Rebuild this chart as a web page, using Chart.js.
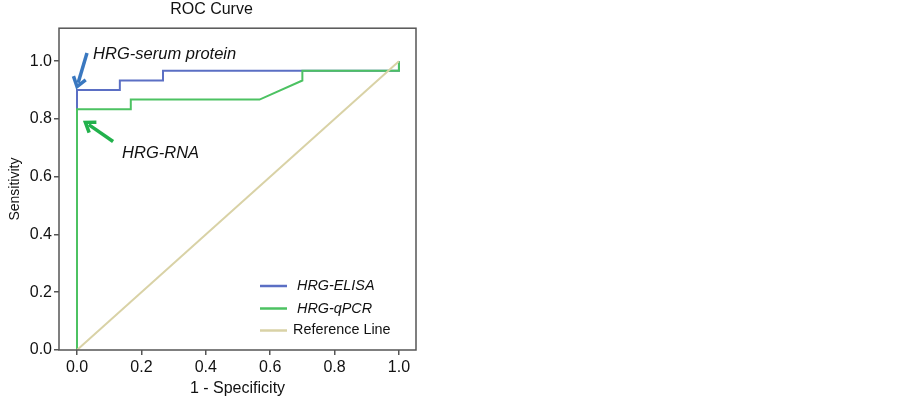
<!DOCTYPE html>
<html>
<head>
<meta charset="utf-8">
<script src="https://cdn.jsdelivr.net/npm/chart.js@4/dist/chart.umd.min.js"></script>
<style>
html,body{margin:0;padding:0;background:#fff;}
#wrap{width:903px;height:398px;position:relative;}
</style>
</head>
<body>
<div id="wrap"><canvas id="c" width="903" height="398"></canvas></div>
<script>
// ---- data ----
const elisaFpr = [0, 0, 0.133, 0.133, 0.267, 0.267, 1.0, 1.0];
const elisaTpr = [0, 0.9, 0.9, 0.933, 0.933, 0.967, 0.967, 1.0];
const qpcrFpr  = [0, 0, 0.167, 0.167, 0.567, 0.7, 0.7, 1.0, 1.0];
const qpcrTpr  = [0, 0.833, 0.833, 0.867, 0.867, 0.933, 0.967, 0.967, 1.0];
const refFpr   = [0, 1];
const refTpr   = [0, 1];
const seriesNames = ['HRG-ELISA', 'HRG-qPCR', 'Reference Line'];
const xTicks = [0, 0.2, 0.4, 0.6, 0.8, 1.0];
const yTicks = [0, 0.2, 0.4, 0.6, 0.8, 1.0];
const annotations = [
  {text: 'HRG-serum protein', x: 0.05, y: 1.024, color: '#3a78c0', from: [0.031, 1.028], to: [0.0, 0.912]},
  {text: 'HRG-RNA', x: 0.14, y: 0.679, color: '#22b14c', from: [0.112, 0.722], to: [0.026, 0.788]}
];

const pts = (xs, ys) => xs.map((x, i) => ({x: x, y: ys[i]}));
const FONT = '"Liberation Sans", Arial, sans-serif';

const framePlugin = {
  id: 'frame',
  afterDraw(chart) {
    const ctx = chart.ctx, a = chart.chartArea;
    ctx.save();
    ctx.strokeStyle = '#555';
    ctx.lineWidth = 1.5;
    ctx.strokeRect(a.left, a.top, a.right - a.left, a.bottom - a.top);
    const xs = chart.scales.x, ys = chart.scales.y;
    ctx.font = 'italic 16.5px ' + FONT;
    ctx.textBaseline = 'middle';
    annotations.forEach(an => {
      ctx.fillStyle = '#111';
      ctx.textAlign = 'left';
      ctx.fillText(an.text, xs.getPixelForValue(an.x), ys.getPixelForValue(an.y));
      const x1 = xs.getPixelForValue(an.from[0]), y1 = ys.getPixelForValue(an.from[1]);
      const x2 = xs.getPixelForValue(an.to[0]), y2 = ys.getPixelForValue(an.to[1]);
      const ang = Math.atan2(y2 - y1, x2 - x1);
      ctx.strokeStyle = an.color;
      ctx.fillStyle = an.color;
      ctx.lineWidth = 3.5;
      ctx.lineCap = 'butt';
      ctx.beginPath();
      ctx.moveTo(x1, y1);
      ctx.lineTo(x2 - 4 * Math.cos(ang), y2 - 4 * Math.sin(ang));
      ctx.stroke();
      const L = 11, w = 0.62;
      ctx.lineJoin = 'miter';
      ctx.beginPath();
      ctx.moveTo(x2 - L * Math.cos(ang - w), y2 - L * Math.sin(ang - w));
      ctx.lineTo(x2, y2);
      ctx.lineTo(x2 - L * Math.cos(ang + w), y2 - L * Math.sin(ang + w));
      ctx.stroke();
    });
    const colors = chart.data.datasets.map(d => d.borderColor);
    const lx = 260, rows = [286, 308.5, 330.5];
    seriesNames.forEach((n, i) => {
      ctx.strokeStyle = colors[i];
      ctx.lineWidth = 2.5;
      ctx.beginPath();
      ctx.moveTo(lx, rows[i]);
      ctx.lineTo(lx + 27, rows[i]);
      ctx.stroke();
      ctx.fillStyle = '#111';
      ctx.font = (i < 2 ? 'italic ' : '') + '14.4px ' + FONT;
      ctx.textAlign = 'left';
      ctx.fillText(n, i < 2 ? lx + 37 : lx + 33, rows[i]);
    });
    ctx.restore();
  }
};

new Chart(document.getElementById('c'), {
  type: 'line',
  data: {
    datasets: [
      {label: seriesNames[0], data: pts(elisaFpr, elisaTpr), borderColor: '#5b6fc4', borderWidth: 2, pointRadius: 0, tension: 0, fill: false, order: 3},
      {label: seriesNames[1], data: pts(qpcrFpr, qpcrTpr), borderColor: '#4cc262', borderWidth: 2, pointRadius: 0, tension: 0, fill: false, order: 2},
      {label: seriesNames[2], data: pts(refFpr, refTpr), borderColor: '#d9d2a6', borderWidth: 2, pointRadius: 0, tension: 0, fill: false, order: 1}
    ]
  },
  options: {
    responsive: false,
    animation: false,
    layout: {padding: {left: 7, right: 487, top: 0, bottom: 0}},
    plugins: {
      legend: {display: false},
      tooltip: {enabled: false},
      title: {display: true, text: 'ROC Curve', color: '#111', font: {family: FONT, size: 16, weight: 'normal'}, padding: {top: 0, bottom: 9}}
    },
    scales: {
      x: {
        type: 'linear', min: -0.056, max: 1.053,
        afterBuildTicks: ax => { ax.ticks = xTicks.map(v => ({value: v})); },
        afterFit: ax => { ax.height = 48; },
        ticks: {color: '#111', font: {family: FONT, size: 16}, padding: 3, maxRotation: 0, callback: v => Number(v).toFixed(1)},
        grid: {display: true, drawOnChartArea: false, drawTicks: true, tickLength: 5, color: '#555', lineWidth: 1.5},
        border: {display: false},
        title: {display: true, text: '1 - Specificity', color: '#111', font: {family: FONT, size: 16}, padding: {top: 0, bottom: 0}}
      },
      y: {
        type: 'linear', min: 0, max: 1.114,
        afterBuildTicks: ax => { ax.ticks = yTicks.map(v => ({value: v})); },
        afterFit: ax => { ax.width = 52; },
        ticks: {color: '#111', font: {family: FONT, size: 16}, padding: 2, callback: v => Number(v).toFixed(1)},
        grid: {display: true, drawOnChartArea: false, drawTicks: true, tickLength: 5, color: '#555', lineWidth: 1.5},
        border: {display: false},
        title: {display: true, text: 'Sensitivity', color: '#111', font: {family: FONT, size: 14}, padding: {top: 0, bottom: 0}}
      }
    }
  },
  plugins: [framePlugin]
});
</script>
</body>
</html>
